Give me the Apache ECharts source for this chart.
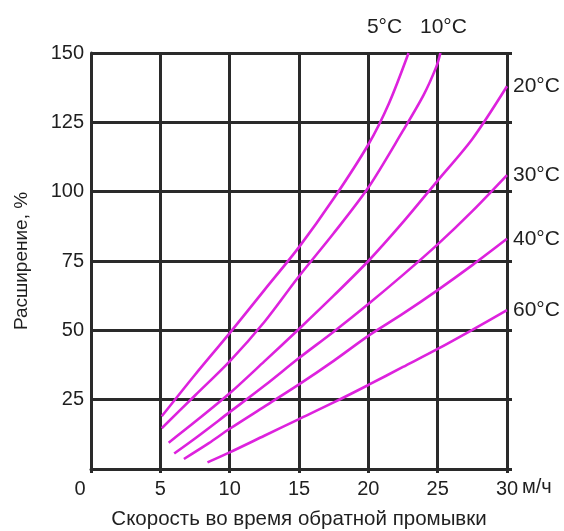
<!DOCTYPE html>
<html><head><meta charset="utf-8">
<script src="https://cdn.jsdelivr.net/npm/echarts@6/dist/echarts.min.js"></script>
<style>html,body{margin:0;padding:0;background:#fff}#c{width:564px;height:531px}</style>
</head><body><div id="c"></div>
<script>
// Data: [speed m/h, expansion %]
const xTicks = [0, 5, 10, 15, 20, 25, 30];
const yTicks = [0, 25, 50, 75, 100, 125, 150];
const temps = ['5°C', '10°C', '20°C', '30°C', '40°C', '60°C'];
const c5  = [[5.1,19],[7.5,34],[10,49],[12.5,64.5],[15,80],[17.5,97.5],[20,117],[21.5,132],[22.9,150]];
const c10 = [[5.1,14.7],[7.5,26.5],[10,38.8],[12.5,53],[15,69.5],[17.5,85],[20,101.5],[22.5,122],[24,135],[24.9,145],[25.2,150]];
const c20 = [[5.6,9.5],[7.5,17],[10,27.3],[12.5,38.8],[15,50.5],[17.5,62.5],[20,75],[22.5,89],[25,104],[27.5,119],[30,138]];
const c30 = [[6.0,5.6],[7.5,11],[10,20.5],[12.5,30],[15,40],[17.5,49.5],[20,59.5],[22.5,70],[25,81],[27.5,93],[30,106]];
const c40 = [[6.7,3.6],[8.5,9.3],[10,14.5],[12.5,22.5],[15,30.5],[17.5,39],[20,48],[22.5,56],[25,64.5],[27.5,73.5],[30,83]];
const c60 = [[8.4,2.4],[10,6],[12.5,12],[15,18],[17.5,24],[20,30.3],[22.5,36.8],[25,43.3],[27.5,50.2],[30,57.3]];
const curves = [c5, c10, c20, c30, c40, c60];

const FONT = 'Liberation Sans, Arial, sans-serif';
const TXT = '#1f1f1f';
const GRID = '#2a2a2a';
const CURVE = '#dd22dd';

// label placement per curve (align, verticalAlign, padding[t,r,b,l], distance)
const endLab = [
  {align:'center', verticalAlign:'bottom', padding:[0,48,15,0], distance:0},
  {align:'center', verticalAlign:'bottom', padding:[0,0,15,6], distance:0},
  {align:'left', verticalAlign:'middle', padding:[2,0,0,0], distance:6},
  {align:'left', verticalAlign:'middle', padding:[0,0,8,0], distance:6},
  {align:'left', verticalAlign:'middle', padding:[0,0,10,0], distance:6},
  {align:'left', verticalAlign:'middle', padding:[6,0,0,0], distance:6}
];

const chart = echarts.init(document.getElementById('c'), null, {renderer:'canvas'});
chart.setOption({
  animation: false,
  backgroundColor: '#fff',
  textStyle: {fontFamily: FONT},
  grid: {left: 91, right: 57, top: 53, bottom: 62, containLabel: false, outerBoundsMode: 'none'},
  xAxis: {
    type: 'value', min: xTicks[0], max: xTicks[xTicks.length-1], interval: 5,
    name: 'Скорость во время обратной промывки', nameLocation: 'middle', nameGap: 40,
    nameTextStyle: {fontSize: 20.5, color: TXT, fontFamily: FONT},
    axisLine: {show: true, lineStyle: {color: GRID, width: 3}},
    axisTick: {show: true, length: 4, lineStyle: {color: GRID, width: 3}},
    splitLine: {show: true, lineStyle: {color: GRID, width: 3}},
    axisLabel: {
      fontSize: 20, color: TXT, margin: 10, fontFamily: FONT,
      formatter: v => v === 0 ? '{z|0}' : String(v),
      rich: {z: {fontSize: 20, color: TXT, fontFamily: FONT, padding: [0, 22, 0, 0]}}
    }
  },
  yAxis: [{
    type: 'value', min: yTicks[0], max: yTicks[yTicks.length-1], interval: 25,
    name: 'Расширение, %', nameLocation: 'middle', nameGap: 60, nameRotate: 90,
    nameTextStyle: {fontSize: 19, color: TXT, fontFamily: FONT},
    axisLine: {show: true, lineStyle: {color: GRID, width: 3}},
    axisTick: {show: false},
    splitLine: {show: true, lineStyle: {color: GRID, width: 3}},
    axisLabel: {fontSize: 20, color: TXT, margin: 7, fontFamily: FONT,
      formatter: v => v === 0 ? '' : String(v)}
  }, {
    type: 'value', position: 'right', min: 0, max: 150, interval: 25,
    axisLine: {show: false},
    axisTick: {show: true, length: 5, lineStyle: {color: GRID, width: 3}},
    axisLabel: {show: false}, splitLine: {show: false}
  }],
  graphic: [{
    type: 'text', left: 522, top: 477,
    style: {text: 'м/ч', fontSize: 20, fill: TXT, fontFamily: FONT}
  }],
  series: curves.map((d, i) => ({
    type: 'line', name: temps[i], data: d, yAxisIndex: 0,
    showSymbol: false, smooth: 0.3,
    lineStyle: {color: CURVE, width: 2.6},
    itemStyle: {color: CURVE},
    endLabel: {
      show: true, formatter: temps[i], fontSize: 21, color: TXT, fontFamily: FONT,
      align: endLab[i].align, verticalAlign: endLab[i].verticalAlign,
      padding: endLab[i].padding, distance: endLab[i].distance
    }
  }))
});
</script></body></html>
